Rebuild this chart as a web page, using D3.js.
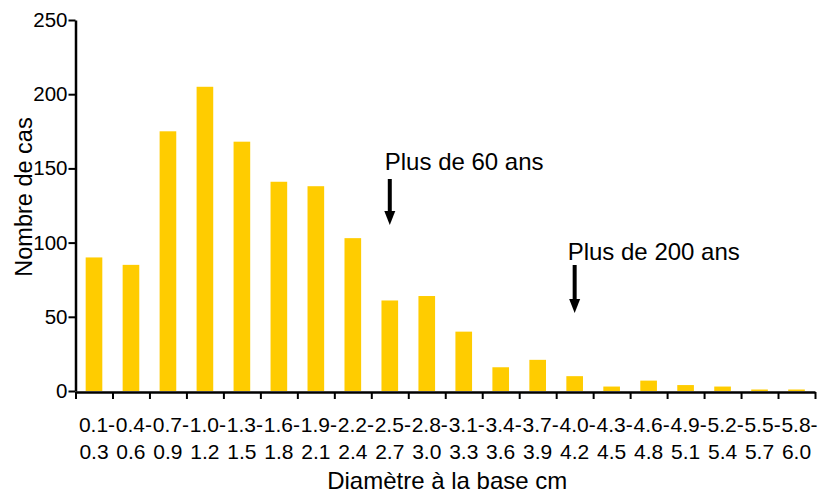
<!DOCTYPE html>
<html>
<head>
<meta charset="utf-8">
<script src="https://cdnjs.cloudflare.com/ajax/libs/d3/7.8.5/d3.min.js"></script>
<style>
  html, body { margin: 0; padding: 0; background: #fff; }
  svg { display: block; font-family: "Liberation Sans", Arial, sans-serif; }
</style>
</head>
<body>
<svg id="chart" width="827" height="494"></svg>
<script>
const lowerBounds = ["0.1-","0.4-","0.7-","1.0-","1.3-","1.6-","1.9-","2.2-","2.5-","2.8-","3.1-","3.4-","3.7-","4.0-","4.3-","4.6-","4.9-","5.2-","5.5-","5.8-"];
const upperBounds = ["0.3","0.6","0.9","1.2","1.5","1.8","2.1","2.4","2.7","3.0","3.3","3.6","3.9","4.2","4.5","4.8","5.1","5.4","5.7","6.0"];
const counts = [90, 85, 175, 205, 168, 141, 138, 103, 61, 64, 40, 16, 21, 10, 3, 7, 4, 3, 1, 1];
const yTicks = [0, 50, 100, 150, 200, 250];
const annotations = [
  { label: "Plus de 60 ans", category: 8, top: 179, tip: 225, textY: 170, dx: -5 },
  { label: "Plus de 200 ans", category: 13, top: 265, tip: 313, textY: 260, dx: -7 }
];

const svg = d3.select("#chart");
const plotLeft = 75.5, plotRight = 815, plotTop = 20, plotBottom = 391;
const cats = d3.range(counts.length);

const x = d3.scaleBand().domain(cats).range([plotLeft, plotRight]).paddingInner(0.55).paddingOuter(0.275);
const xb = d3.scaleLinear().domain([0, counts.length]).range([plotLeft, plotRight]);
const y = d3.scaleLinear().domain([0, 250]).range([plotBottom, plotTop]);

// bars
svg.append("g").selectAll("rect").data(counts).join("rect")
  .attr("x", (d, i) => x(i))
  .attr("width", x.bandwidth())
  .attr("y", d => y(d))
  .attr("height", d => y(0) - y(d))
  .attr("fill", "#FFCC00");

// y axis
const yAxis = svg.append("g")
  .attr("transform", `translate(${plotLeft},0)`)
  .call(d3.axisLeft(y).tickValues(yTicks).tickSize(7).tickSizeOuter(0).tickPadding(1));
yAxis.select(".domain").attr("stroke", "#000").attr("stroke-width", 2.5);
yAxis.selectAll(".tick line").attr("stroke", "#000").attr("stroke-width", 2);
yAxis.selectAll(".tick text").attr("font-size", 20.5).attr("fill", "#000")
  .attr("font-family", "'Liberation Sans', Arial, sans-serif");

// x axis (ticks at class boundaries)
const xAxis = svg.append("g")
  .attr("transform", `translate(0,${plotBottom + 1})`)
  .call(d3.axisBottom(xb).tickValues(d3.range(counts.length + 1)).tickSize(7).tickSizeOuter(0).tickFormat(""));
xAxis.select(".domain").attr("stroke", "#000").attr("stroke-width", 2.5);
xAxis.selectAll(".tick line").attr("stroke", "#000").attr("stroke-width", 2);

// category labels, two lines
const lbl = svg.append("g").attr("font-size", 21).attr("fill", "#000").attr("text-anchor", "middle");
lbl.selectAll("text.l1").data(lowerBounds).join("text").attr("class", "l1")
  .attr("x", (d, i) => x(i) + x.bandwidth() / 2 + 3)
  .attr("y", 432).text(d => d);
lbl.selectAll("text.l2").data(upperBounds).join("text").attr("class", "l2")
  .attr("x", (d, i) => x(i) + x.bandwidth() / 2)
  .attr("y", 459).text(d => d);

// axis titles
svg.append("text").attr("x", (plotLeft + plotRight) / 2 + 2).attr("y", 489)
  .attr("text-anchor", "middle").attr("font-size", 24).attr("fill", "#000")
  .text("Diamètre à la base cm");
svg.append("text").attr("transform", "translate(31.5,197) rotate(-90)")
  .attr("text-anchor", "middle").attr("font-size", 23.5).attr("fill", "#000")
  .text("Nombre de cas");

// annotations with arrows
const ann = svg.append("g");
annotations.forEach(a => {
  const cx = x(a.category) + x.bandwidth() / 2;
  ann.append("text").attr("x", cx + a.dx).attr("y", a.textY)
    .attr("font-size", 24).attr("fill", "#000").text(a.label);
  ann.append("line").attr("x1", cx).attr("x2", cx)
    .attr("y1", a.top).attr("y2", a.tip - 12)
    .attr("stroke", "#000").attr("stroke-width", 4);
  ann.append("path")
    .attr("d", `M${cx - 5.5},${a.tip - 14} L${cx + 5.5},${a.tip - 14} L${cx},${a.tip} Z`)
    .attr("fill", "#000");
});
</script>
</body>
</html>
